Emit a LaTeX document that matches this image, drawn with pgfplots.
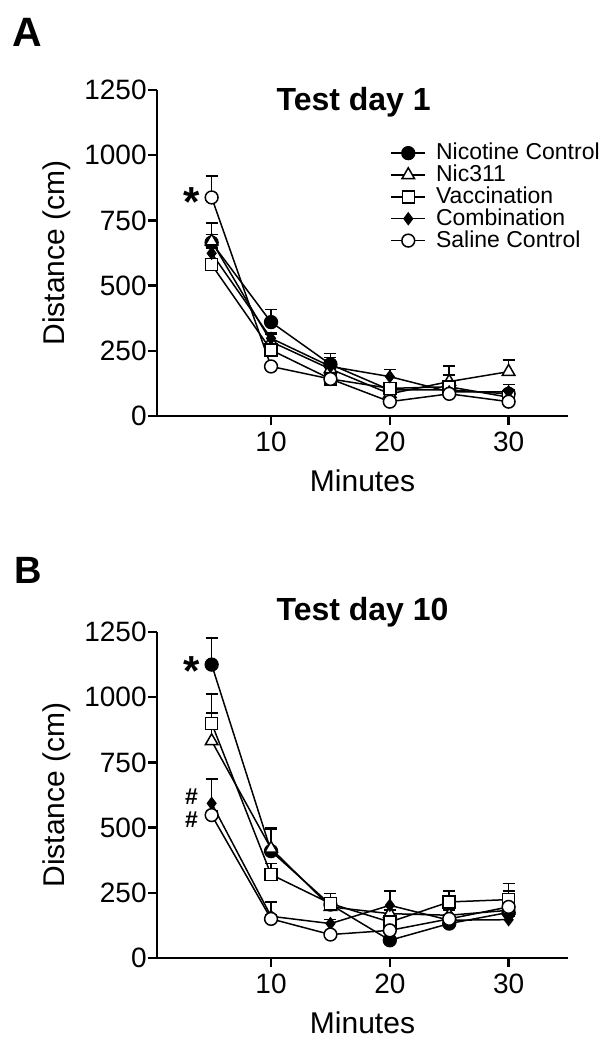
\documentclass[border=0pt]{standalone}
\usepackage{fontspec}
\setmainfont{Liberation Sans}
\usepackage{pgfplots}
\pgfplotsset{compat=1.18}

% shared look of both panels
\pgfplotsset{
  panel/.style={
    scale only axis, width=205.5pt, height=163pt,
    axis lines=left, axis line style={-, line width=1.25pt},
    xmin=0.4, xmax=35, ymin=0, ymax=1250,
    xtick={10,20,30}, ytick={0,250,500,750,1000,1250},
    tick align=outside, major tick length=4.5pt,
    tick style={line width=1.25pt, black},
    /pgf/number format/assume math mode=true,
    /pgf/number format/1000 sep={},
    tick label style={font=\fontsize{14}{14}\selectfont},
    yticklabel style={inner xsep=0.5pt},
    xlabel={Minutes}, ylabel={Distance (cm)},
    label style={font=\fontsize{15}{15}\selectfont},
    xlabel style={at={(axis description cs:0.5,-0.2)}, anchor=center},
    ylabel style={at={(axis description cs:-0.243,0.5)}, anchor=center},
    title style={font=\fontsize{16}{16}\selectfont\bfseries, anchor=base west, inner sep=0pt},
    clip=false,
    every axis plot/.append style={line width=0.75pt, black},
    error bars/y dir=plus, error bars/y explicit,
    error bars/error mark options={rotate=90, mark size=3pt, line width=0.75pt},
    error bars/error bar style={line width=0.75pt},
  },
  nicctrl/.style={mark=*, mark size=3.2pt, mark options={fill=black}},
  nic311/.style={mark=triangle*, mark size=3.6pt, mark options={fill=white}},
  vacc/.style={mark=square*, mark size=3pt, mark options={fill=white}},
  comb/.style={mark=diamond*, mark size=2.8pt, mark options={fill=black}},
  saline/.style={mark=*, mark size=3.2pt, mark options={fill=white}},
}

\begin{document}
\begin{tikzpicture}
\useasboundingbox (0,0) rectangle (307.5pt,-524pt);

\node[anchor=base west, inner sep=0pt, font=\fontsize{20.5}{20.5}\selectfont\bfseries] at (6pt,-23.5pt) {A};
\node[anchor=base west, inner sep=0pt, font=\fontsize{19}{19}\selectfont\bfseries] at (7pt,-291.5pt) {B};

% ---- A: test day 1
\begin{axis}[panel, at={(78.5pt,-208pt)}, anchor=south west,
  title={Test day 1}, title style={at={(axis description cs:0.29,0.9)}},
  legend style={at={(axis description cs:0.567,0.85)}, anchor=north west,
    draw=none, fill=none, font=\fontsize{11.5}{11.5}\selectfont,
    row sep=-2.9pt, column sep=3pt, inner sep=0pt},
  legend cell align=left]
\addplot[nicctrl] table[y error=e] {
x y e
5 665 75
10 360 48
15 198 42
20 100 15
25 100 20
30 85 15
};
\addplot[nic311] table[y error=e] {
x y e
5 670 25
10 285 30
15 180 25
20 85 20
25 132 60
30 170 45
};
\addplot[vacc] table[y error=e] {
x y e
5 580 15
10 253 15
15 142 15
20 106 15
25 112 45
30 72 15
};
\addplot[comb] table[y error=e] {
x y e
5 624 20
10 298 20
15 190 35
20 151 28
25 93 15
30 93 28
};
\addplot[saline] table[y error=e] {
x y e
5 838 82
10 190 10
15 142 10
20 55 10
25 85 10
30 55 10
};
\legend{Nicotine Control, Nic311, Vaccination, Combination, Saline Control}
\node[font=\fontsize{21}{21}\selectfont\bfseries] at (axis cs:3.3,820) {*};
\end{axis}

% ---- B: test day 10
\begin{axis}[panel, at={(78.5pt,-479pt)}, anchor=south west,
  title={Test day 10}, title style={at={(axis description cs:0.29,0.997)}}]
\addplot[nicctrl] table[y error=e] {
x y e
5 1125 102
10 410 88
15 205 20
20 68 10
25 132 15
30 175 20
};
\addplot[nic311] table[y error=e] {
x y e
5 832 108
10 420 72
15 196 33
20 170 15
25 164 20
30 183 20
};
\addplot[vacc] table[y error=e] {
x y e
5 900 113
10 320 43
15 209 38
20 138 20
25 215 41
30 224 62
};
\addplot[comb] table[y error=e] {
x y e
5 593 93
10 160 55
15 132 15
20 202 54
25 145 15
30 147 15
};
\addplot[saline] table[y error=e] {
x y e
5 548 15
10 150 15
15 90 10
20 106 15
25 150 15
30 196 60
};
\node[font=\fontsize{21}{21}\selectfont\bfseries] at (axis cs:3.3,1100) {*};
\node[inner sep=0pt, font=\fontsize{11.5}{11.5}\selectfont\bfseries] at (axis cs:3.3,620) {\#};
\node[inner sep=0pt, font=\fontsize{11.5}{11.5}\selectfont\bfseries] at (axis cs:3.3,530) {\#};
\end{axis}
\end{tikzpicture}
\end{document}
